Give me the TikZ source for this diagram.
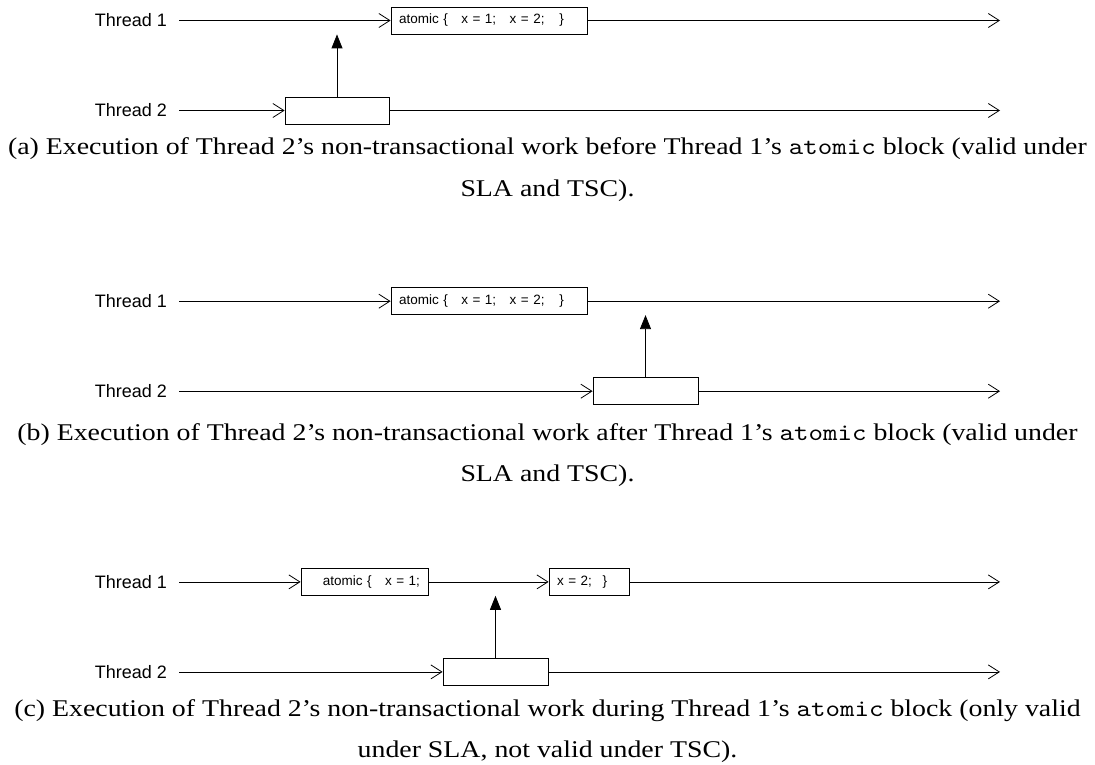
\documentclass[tikz,border=0pt]{standalone}
\usepackage{fontspec}
\setmainfont{Liberation Serif}[FakeStretch = 1.16]
\setmonofont{lmmono10-regular.otf}[FakeStretch = 1.15]
\newfontfamily\diagfont{Liberation Sans}
\usetikzlibrary{arrows.meta}

\tikzset{
	thread/.style = {anchor = east, inner sep = 0pt, outer xsep = 12pt, font = \diagfont\fontsize{18}{20}\selectfont},
	work/.style = {draw, line width = 0.8pt, minimum height = 27pt, inner xsep = 8pt, inner ysep = 0pt, font = \diagfont\fontsize{13.5}{15}\selectfont},
	hb/.style = {-{Triangle[length = 14pt, width = 11pt]}},
	capline/.style = {anchor = base, inner sep = 0pt, font = \fontsize{24}{28}\selectfont}
}

\begin{document}
\begin{tikzpicture}[x = 1pt, y = -1pt, > = {Straight Barb[length = 11pt, width = 14pt]}, line width = 0.8pt]

	\useasboundingbox (0, 0) rectangle (1095, 765);

	% (a) before
	\begin{scope}
		\node [thread] (t1a) at (179, 20.5) {Thread 1};
		\node [thread] (t2a) at (179, 110.5) {Thread 2};
		\node [work, text width = 180pt, align = left] (a1a) at (489, 20.5) {atomic \{\hspace{1em}x = 1;\hspace{1em}x = 2;\hspace{1.1em}\}};
		\node [work, minimum width = 104pt] (w2a) at (337, 110.5) {};
		\coordinate (e1a) at (1000, 20.5);
		\coordinate (e2a) at (1000, 110.5);

		\draw [->] (t1a) -- (a1a);
		\draw [->] (a1a) -- (e1a);
		\draw [->] (t2a) -- (w2a);
		\draw [->] (w2a) -- (e2a);
		\draw [hb] (w2a.north) -- (w2a.north |- a1a.south);

		\node [capline] (ca1) at (547.5, 155) {(a) Execution of Thread 2's non-transactional work before Thread 1's \texttt{atomic} block (valid under};
		\node [capline] (ca2) at (547.5, 196) {SLA and TSC).};
	\end{scope}

	% (b) after
	\begin{scope}[shift = {(0, 280.7)}]
		\node [thread] (t1b) at (179, 20.5) {Thread 1};
		\node [thread] (t2b) at (179, 110.5) {Thread 2};
		\node [work, text width = 180pt, align = left] (a1b) at (489, 20.5) {atomic \{\hspace{1em}x = 1;\hspace{1em}x = 2;\hspace{1.1em}\}};
		\node [work, minimum width = 105pt] (w2b) at (645.5, 110.5) {};
		\coordinate (e1b) at (1000, 20.5);
		\coordinate (e2b) at (1000, 110.5);

		\draw [->] (t1b) -- (a1b);
		\draw [->] (a1b) -- (e1b);
		\draw [->] (t2b) -- (w2b);
		\draw [->] (w2b) -- (e2b);
		\draw [hb] (w2b.north) -- (w2b.north |- a1b.south);

		\node [capline] (cb1) at (547.5, 159.5) {(b) Execution of Thread 2's non-transactional work after Thread 1's \texttt{atomic} block (valid under};
		\node [capline] (cb2) at (547.5, 200.5) {SLA and TSC).};
	\end{scope}

	% (c) during
	\begin{scope}[shift = {(0, 561.4)}]
		\node [thread] (t1c) at (179, 20.5) {Thread 1};
		\node [thread] (t2c) at (179, 110.5) {Thread 2};
		\node [work, text width = 111pt, align = right] (a1c) at (364.5, 20.5) {atomic \{\hspace{1em}x = 1;};
		\node [work, text width = 64pt, align = left] (x2c) at (589, 20.5) {x = 2;\hspace{0.8em}\}};
		\node [work, minimum width = 105pt] (w2c) at (495.5, 110.5) {};
		\coordinate (e1c) at (1000, 20.5);
		\coordinate (e2c) at (1000, 110.5);

		\draw [->] (t1c) -- (a1c);
		\draw [->] (a1c) -- (x2c);
		\draw [->] (x2c) -- (e1c);
		\draw [->] (t2c) -- (w2c);
		\draw [->] (w2c) -- (e2c);
		\draw [hb] (w2c.north) -- (w2c.north |- a1c.south);

		\node [capline] (cc1) at (547.5, 155) {(c) Execution of Thread 2's non-transactional work during Thread 1's \texttt{atomic} block (only valid};
		\node [capline] (cc2) at (547.5, 196) {under SLA, not valid under TSC).};
	\end{scope}

\end{tikzpicture}
\end{document}
